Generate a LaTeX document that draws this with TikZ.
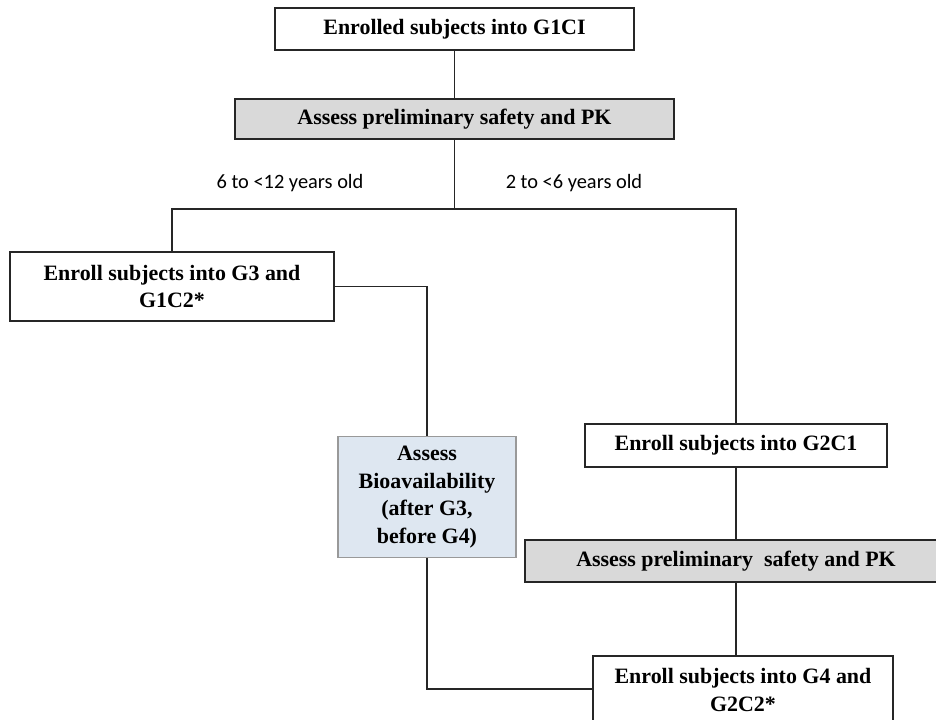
\documentclass[tikz,border=0pt]{standalone}
\usepackage{fontspec}
\setmainfont{Liberation Serif}
\newfontfamily\labelfont{Carlito}
\usepackage{tikz}
\usetikzlibrary{positioning, calc}

\definecolor{biofill}{RGB}{222,231,241}

\begin{document}
\begin{tikzpicture}[
    x=0.025cm, y=-0.025cm,
    every node/.style={font=\fontsize{15.6}{19.5}\selectfont\bfseries, align=center, inner sep=2pt},
    box/.style={draw=black!85, line width=1.6pt, fill=white},
    enrollbox/.style={box},
    assessbox/.style={box, fill=black!15},
    biobox/.style={draw=black!40, line width=0.8pt, fill=biofill},
    agelabel/.style={font=\labelfont\fontsize{14.5}{17}\selectfont},
    link/.style={draw=black!85, line width=1.1pt}
]

% Frame
\useasboundingbox (0,0) rectangle (936,719);
\clip (0,0) rectangle (936,719);

% First stage
\node[enrollbox, minimum width=8.975cm, minimum height=1.05cm] (g1c1) at (454.5,29) {Enrolled subjects into G1CI};
\node[assessbox, minimum width=10.975cm, minimum height=1cm] (pk1) at (454.5,119) {Assess preliminary safety and PK};

% Age split
\coordinate (split) at (454.5,209);
\node[agelabel] (older) at (290,183) {6 to <12 years old};
\node[agelabel] (younger) at (574,183) {2 to <6 years old};

% Left branch (6 to <12)
\node[enrollbox, minimum width=8.1cm, minimum height=1.725cm] (g3) at (172,286.5) {Enroll subjects into G3 and\\G1C2*};
\node[biobox, minimum width=4.45cm, minimum height=3.025cm] (bio) at (427,497) {Assess\\Bioavailability\\(after G3,\\before G4)};

% Right branch (2 to <6)
\node[enrollbox, minimum width=7.55cm, minimum height=1.075cm] (g2c1) at (736,445.5) {Enroll subjects into G2C1};
\node[assessbox, minimum width=10.55cm, minimum height=1.05cm] (pk2) at (736,561) {Assess preliminary\ \ safety and PK};
\node[enrollbox, minimum width=7.5cm, minimum height=1.7cm] (g4) at (743,690) {Enroll subjects into G4 and\\G2C2*};

% Connectors
\draw[link] (g1c1) -- (pk1);
\draw[link] (pk1) -- (split);
\draw[link] (g3.north) |- (split) -| (g2c1.north);
\draw[link] (g3.east) -| (bio.north);
\draw[link] (bio.south) |- ([yshift=-0.85cm]g4.north west);
\draw[link] (g2c1) -- (pk2);
\draw[link] (pk2.south) -- (pk2.south |- g4.north);

\end{tikzpicture}
\end{document}
